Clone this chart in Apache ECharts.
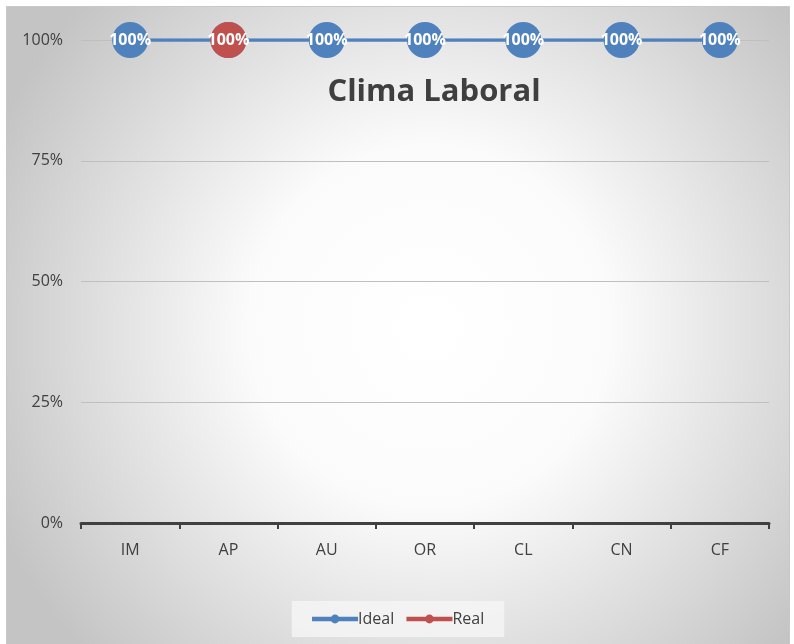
<!DOCTYPE html>
<html>
<head>
<meta charset="utf-8">
<script src="https://cdn.jsdelivr.net/npm/echarts@6/dist/echarts.min.js"></script>
<style>
  html, body { margin: 0; padding: 0; background: #ffffff; }
  #chart { width: 794px; height: 644px; }
</style>
</head>
<body>
<div id="chart"></div>
<script>
// Dimensions of the work-climate survey
const categories = ['IM', 'AP', 'AU', 'OR', 'CL', 'CN', 'CF'];
// Target level for every dimension
const idealValues = [1, 1, 1, 1, 1, 1, 1];
// Measured level (only AP reported)
const realValues = ['-', 1, '-', '-', '-', '-', '-'];
const yTicks = [0, 0.25, 0.5, 0.75, 1];

const chart = echarts.init(document.getElementById('chart'), null, { renderer: 'canvas' });

const font = '"Open Sans", "Noto Sans", sans-serif';
const pct = v => Math.round(v * 100) + '%';

chart.setOption({
  animation: false,
  graphic: [{
    type: 'rect',
    z: -10,
    silent: true,
    shape: { x: 6.5, y: 6.5, width: 783, height: 640 },
    style: {
      fill: {
        type: 'radial', x: 0.54, y: 0.5, r: 0.74,
        colorStops: [
          { offset: 0, color: '#ffffff' },
          { offset: 0.38, color: '#fbfbfb' },
          { offset: 1, color: '#c4c4c4' }
        ]
      },
      stroke: '#c8c8c8',
      lineWidth: 1
    }
  }],
  title: {
    text: 'Clima Laboral',
    left: 429,
    top: 72,
    textAlign: 'center',
    textStyle: { fontFamily: font, fontSize: 31, fontWeight: 'bold', color: '#3f3f3f' }
  },
  legend: {
    bottom: 7,
    left: 'center',
    itemWidth: 46,
    itemHeight: 11,
    itemGap: 10,
    padding: [10, 20, 10, 18],
    backgroundColor: 'rgba(245,245,245,0.85)',
    lineStyle: { width: 4.5 },
    textStyle: { fontFamily: font, fontSize: 16, color: '#404040', padding: [0, 0, 0, -5] },
    data: ['Ideal', 'Real']
  },
  grid: { left: 81, right: 25, top: 40, bottom: 121, containLabel: false },
  xAxis: {
    type: 'category',
    data: categories,
    boundaryGap: true,
    axisLine: { lineStyle: { color: '#404040', width: 3 } },
    axisTick: { show: true, length: 6, lineStyle: { color: '#404040', width: 2 } },
    axisLabel: { fontFamily: font, fontSize: 16, color: '#404040', margin: 19 }
  },
  yAxis: {
    type: 'value',
    min: 0,
    max: 1,
    interval: 0.25,
    axisLine: { show: false },
    axisTick: { show: false },
    axisLabel: {
      fontFamily: font, fontSize: 16, color: '#404040', margin: 18,
      formatter: v => yTicks.includes(v) ? pct(v) : ''
    },
    splitLine: { lineStyle: { color: '#bfbfbf', width: 1 } }
  },
  series: [
    {
      name: 'Ideal',
      type: 'line',
      data: idealValues,
      symbol: 'circle',
      symbolSize: 36,
      itemStyle: { color: '#4f81bd' },
      lineStyle: { color: '#4f81bd', width: 3.5 },
      label: {
        show: true, position: 'inside', formatter: p => pct(p.value),
        color: '#ffffff', fontFamily: font, fontWeight: 'bold', fontSize: 16
      },
      z: 3
    },
    {
      name: 'Real',
      type: 'line',
      data: realValues,
      symbol: 'circle',
      symbolSize: 36,
      itemStyle: { color: '#c0504d' },
      lineStyle: { color: '#c0504d', width: 3.5 },
      label: {
        show: true, position: 'inside', formatter: p => pct(p.value),
        color: '#ffffff', fontFamily: font, fontWeight: 'bold', fontSize: 16
      },
      z: 4
    }
  ]
});
</script>
</body>
</html>
